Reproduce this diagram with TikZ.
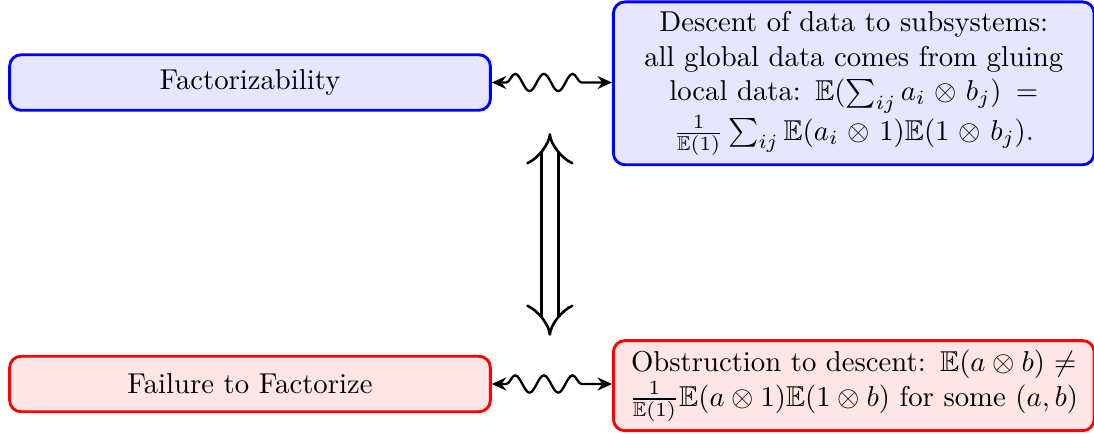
\documentclass[tikz,border=0pt]{standalone}
\usepackage{amsmath,amssymb}
\usetikzlibrary{arrows.meta,decorations.pathmorphing}
\definecolor{paleblue}{RGB}{230,230,255}
\definecolor{palered}{RGB}{255,230,230}

\begin{document}
\begin{tikzpicture}[
  bluebox/.style={rectangle, rounded corners=4pt, draw=blue, fill=paleblue,
                  line width=1pt, text width=5.65cm, align=center},
  redbox/.style={rectangle, rounded corners=4pt, draw=red, fill=palered,
                 line width=1pt, text width=5.65cm, align=center},
  wavy/.style={thick, {Stealth[length=5pt,width=4.5pt]}-{Stealth[length=5pt,width=4.5pt]},
               decorate, decoration={snake, amplitude=3pt, segment length=10pt,
               pre length=5pt, post length=6pt}},
  equiv/.style={double, double distance=5pt, line width=0.9pt,
                {Implies}-{Implies}}
]
  \useasboundingbox (0,0) rectangle (13.39,-5.31);

  \node[bluebox, minimum height=0.68cm] (fact) at (3.06,-1.01) {Factorizability};
  \node[redbox, minimum height=0.68cm] (fail) at (3.06,-4.70) {Failure to Factorize};

  \node[bluebox] (desc) at (10.45,-1.02) {Descent of data to subsystems: all
    global data comes from gluing local data:
    $\mathbb{E}(\sum_{ij} a_i \otimes b_j) = \frac{1}{\mathbb{E}(1)}
    \sum_{ij} \mathbb{E}(a_i \otimes 1)\mathbb{E}(1 \otimes b_j)$.};
  \node[redbox] (obst) at (10.45,-4.72) {Obstruction to descent:
    $\mathbb{E}(a \otimes b) \neq \frac{1}{\mathbb{E}(1)}
    \mathbb{E}(a \otimes 1)\mathbb{E}(1 \otimes b)$ for some $(a,b)$};

  \coordinate (up) at (6.73,-1.63);
  \coordinate (down) at (6.73,-4.11);

  \draw[wavy] (fact.east) -- (fact.east -| desc.west);
  \draw[wavy] (fail.east) -- (fail.east -| obst.west);
  \draw[equiv] (up) -- (down);
\end{tikzpicture}
\end{document}
